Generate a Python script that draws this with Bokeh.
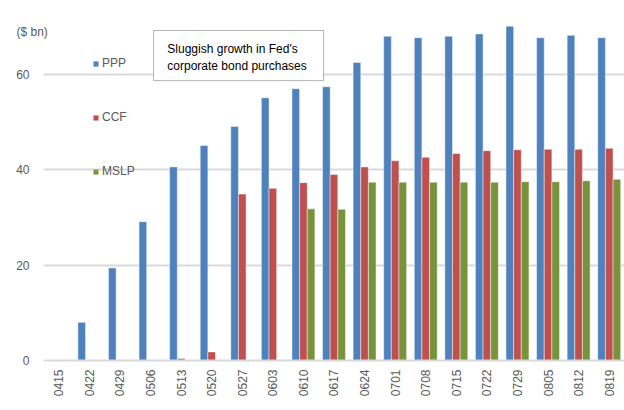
import math
from bokeh.plotting import figure
from bokeh.models import (FixedTicker, Legend, LegendItem, Label, BoxAnnotation, Range1d,
                          ColumnDataSource)
from bokeh.embed import file_html
from bokeh.resources import INLINE

nan = float("nan")

dates = ["0415", "0422", "0429", "0506", "0513", "0520", "0527", "0603", "0610", "0617",
         "0624", "0701", "0708", "0715", "0722", "0729", "0805", "0812", "0819"]
ppp = [nan, 8.0, 19.4, 29.1, 40.6, 45.1, 49.1, 55.1, 57.0, 57.4,
       62.5, 68.0, 67.7, 68.0, 68.5, 70.1, 67.7, 68.2, 67.7]
ccf = [nan, nan, nan, nan, 0.4, 1.8, 34.9, 36.1, 37.3, 39.0,
       40.6, 41.9, 42.6, 43.4, 44.0, 44.2, 44.3, 44.3, 44.5]
mslp = [nan, nan, nan, nan, nan, nan, nan, nan, 31.8, 31.7,
        37.4, 37.4, 37.4, 37.4, 37.4, 37.5, 37.5, 37.7, 38.0]
series_names = ["PPP", "CCF", "MSLP"]
series_values = [ppp, ccf, mslp]
colors = ["#4F81BD", "#C0504D", "#77933C"]
y_ticks = [0, 20, 40, 60]
unit_label = "($ bn)"
note_lines = ["Sluggish growth in Fed's", "corporate bond purchases"]

FONT = "Liberation Sans"
GRAY = "#595959"
FS = "12px"

n = len(dates)
PX_X = 30.58   # pixels per category
x_left = -43 / PX_X          # room for value labels left of the category area
p = figure(width=624, height=410, output_backend="svg", toolbar_location=None,
           x_range=Range1d(x_left, n), y_range=Range1d(0, 75.5),
           min_border_left=0, min_border_right=0, min_border_top=0, min_border_bottom=50)
p.outline_line_color = None
p.background_fill_color = "white"
p.border_fill_color = "white"

# horizontal gridlines limited to the category area
grid = p.ygrid[0]
if "cross_bounds" in grid.properties():
    grid.ticker = FixedTicker(ticks=y_ticks[1:])
    grid.cross_bounds = (0, n)
    grid.grid_line_color = "#d9d9d9"
    grid.grid_line_width = 2
else:
    grid.grid_line_color = None
    gy = y_ticks[1:]
    p.segment(x0=[0] * len(gy), x1=[n] * len(gy), y0=gy, y1=gy,
              line_color="#d9d9d9", line_width=2)
p.xgrid.grid_line_color = None

renderers = []
bar_w = 0.25
for k, (name, vals, col) in enumerate(zip(series_names, series_values, colors)):
    off = (k - 1) * bar_w
    src = ColumnDataSource(dict(x=[i + 0.5 + off for i in range(n)], top=vals))
    r = p.vbar(x="x", top="top", bottom=0, width=bar_w, source=src,
               fill_color=col, line_color="white", line_alpha=0.45, line_width=1)
    renderers.append(r)

# x axis
p.xaxis.ticker = FixedTicker(ticks=[i + 0.5 for i in range(n)])
p.xaxis.major_label_overrides = {i + 0.5: d for i, d in enumerate(dates)}
p.xaxis.major_label_orientation = math.pi / 2
p.xaxis.major_label_text_font = FONT
p.xaxis.major_label_text_font_size = FS
p.xaxis.major_label_text_color = GRAY
p.xaxis.major_label_standoff = 9
p.xaxis.axis_line_color = "#d9d9d9"
p.xaxis.axis_line_width = 2
p.xaxis.bounds = (0, n)
p.xaxis.major_tick_line_color = None
p.xaxis.minor_tick_line_color = None
p.xaxis.major_tick_out = 0
p.xaxis.major_tick_in = 0

# y axis: labels pulled into the left margin of the frame
p.yaxis.ticker = FixedTicker(ticks=y_ticks)
p.yaxis.major_label_text_font = FONT
p.yaxis.major_label_text_font_size = FS
p.yaxis.major_label_text_color = GRAY
p.yaxis.axis_line_color = None
p.yaxis.major_tick_line_color = None
p.yaxis.minor_tick_line_color = None
p.yaxis.major_tick_out = 0
p.yaxis.major_tick_in = 0
p.yaxis.major_label_standoff = -29

legend = Legend(items=[LegendItem(label=nm, renderers=[r]) for nm, r in zip(series_names, renderers)],
                location=(92, 182), orientation="vertical",
                glyph_width=7, glyph_height=7, label_height=14, spacing=40,
                label_standoff=3, padding=0, margin=0,
                border_line_color=None, background_fill_alpha=0,
                label_text_font=FONT, label_text_font_size=FS, label_text_color=GRAY)
p.add_layout(legend)

p.add_layout(Label(x=x_left + 16 / PX_X, y=68.8, text=unit_label, text_font=FONT, text_font_size=FS,
                   text_color=GRAY, text_baseline="middle"))

p.add_layout(BoxAnnotation(left=3.6, right=9.16, top=69.2, bottom=58.7,
                           fill_color="white", fill_alpha=1, line_color="black", line_width=1))
p.add_layout(Label(x=4.05, y=65.3, text=note_lines[0], text_font=FONT, text_font_size=FS,
                   text_color="black", text_baseline="alphabetic"))
p.add_layout(Label(x=4.05, y=61.8, text=note_lines[1], text_font=FONT, text_font_size=FS,
                   text_color="black", text_baseline="alphabetic"))

open("out.html", "w").write(file_html(p, INLINE))
